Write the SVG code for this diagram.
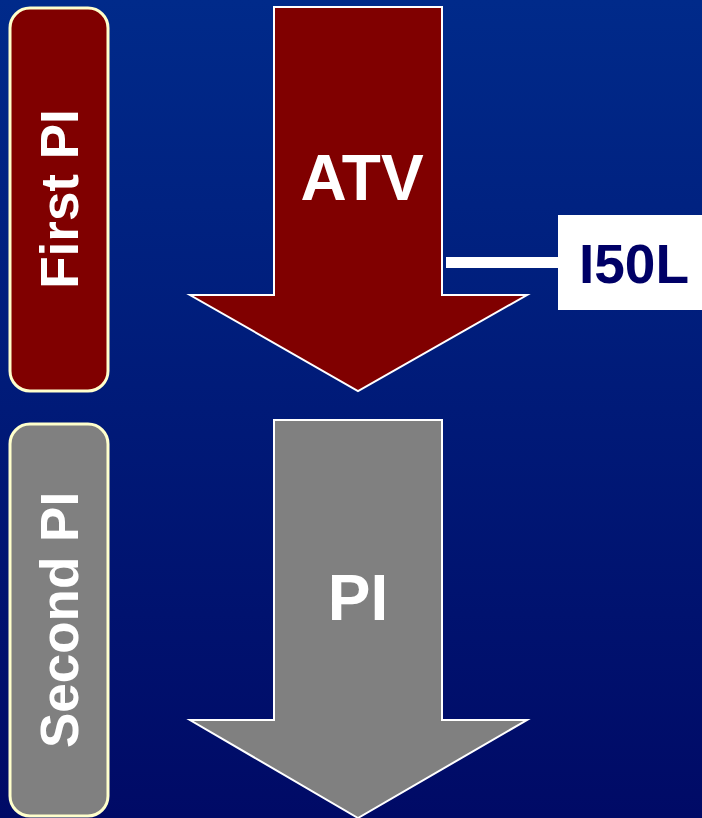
<svg xmlns="http://www.w3.org/2000/svg" width="702" height="818" viewBox="0 0 702 818">
<defs>
<linearGradient id="bg" x1="0" y1="0" x2="0" y2="1">
<stop offset="0" stop-color="#002a8a"/>
<stop offset="1" stop-color="#000a66"/>
</linearGradient>
<style>
.pill{stroke:#ffffcc;stroke-width:3}
.arrow{stroke:#ffffff;stroke-width:2;stroke-linejoin:miter}
.lbl{font-family:"Liberation Sans",Arial,sans-serif;font-weight:bold;fill:#ffffff;text-anchor:middle}
</style>
</defs>
<rect x="0" y="0" width="702" height="818" fill="url(#bg)"/>
<g id="first-pi">
<rect class="pill" x="10" y="8" width="98" height="383" rx="20" fill="#800000"/>
<text class="lbl" font-size="53" transform="translate(78,199) rotate(-90)">First PI</text>
</g>
<g id="second-pi">
<rect class="pill" x="10" y="424" width="98" height="392" rx="20" fill="#808080"/>
<text class="lbl" font-size="53" transform="translate(78,620) rotate(-90)">Second PI</text>
</g>
<g id="atv">
<polygon class="arrow" points="274,7 442,7 442,295 527,295 358,391 190,295 274,295" fill="#800000"/>
<text class="lbl" font-size="64" x="362" y="200">ATV</text>
</g>
<g id="pi">
<polygon class="arrow" points="274,420 442,420 442,720 527,720 358,818 190,720 274,720" fill="#808080"/>
<text class="lbl" font-size="64" x="358" y="620">PI</text>
</g>
<g id="connectors">
<rect x="446" y="257" width="112" height="11" fill="#ffffff"/>
</g>
<g id="i50l">
<rect x="558" y="215" width="144" height="95" fill="#ffffff"/>
<text font-family="Liberation Sans,Arial,sans-serif" font-weight="bold" font-size="55" fill="#000066" text-anchor="middle" x="634" y="283">I50L</text>
</g>
</svg>
